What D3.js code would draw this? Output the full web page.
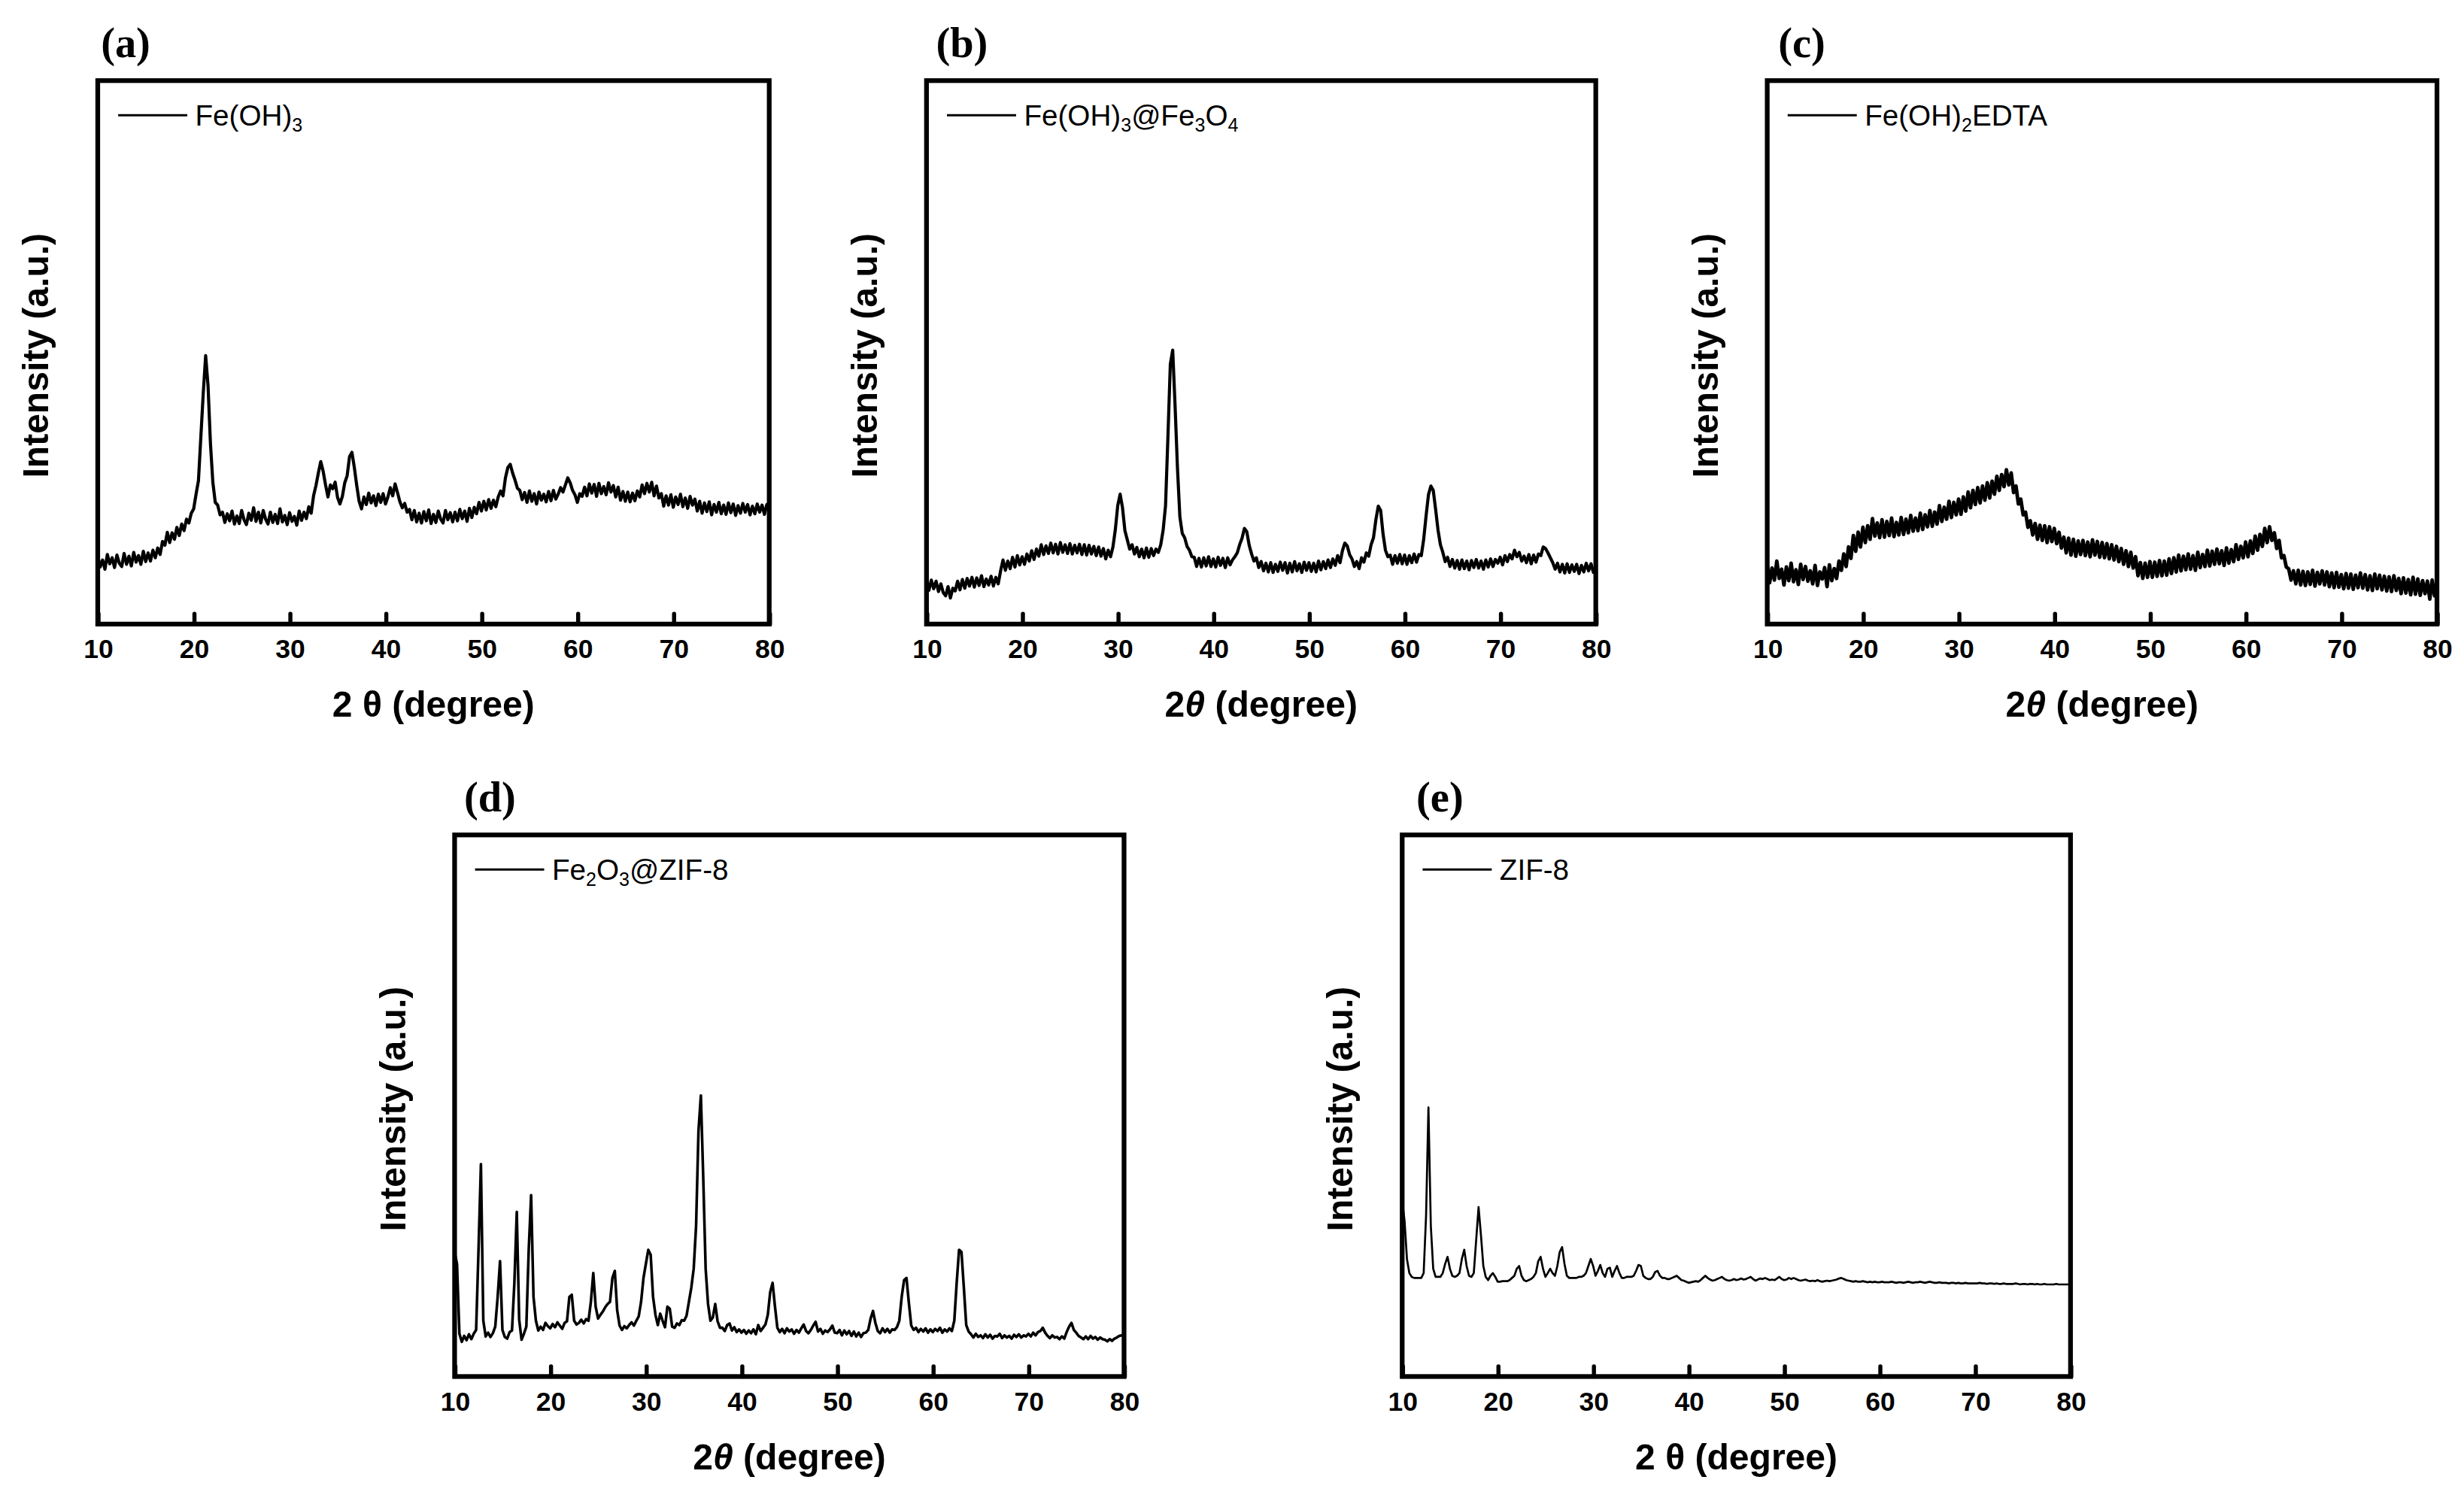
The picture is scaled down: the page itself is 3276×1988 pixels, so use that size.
<!DOCTYPE html>
<html>
<head>
<meta charset="utf-8">
<script src="https://cdn.jsdelivr.net/npm/d3@7"></script>
<style>
  html, body { margin: 0; padding: 0; background: #fff; }
  svg { display: block; }
  .tick text { font-family: "Liberation Sans", Arial, sans-serif; font-weight: bold; }
</style>
</head>
<body>
<div id="chart"></div>
<script>
// XRD patterns, 2θ from 10 to 80 in 0.25 degree steps; intensity in % of the frame height
var twoThetaStart = 10;
var twoThetaStep = 0.25;
var xTickValues = [10, 20, 30, 40, 50, 60, 70, 80];

var feOH3 = [
  12.5,10.5,11.8,10.1, 12.8,11.1,12.2,10.4, 12.7,11.2,10.6,13.0, 11.0,12.5,10.7,13.2,
  11.4,12.6,11.0,13.4, 11.5,13.1,11.6,13.6, 12.2,14.0,12.8,15.2, 14.5,16.9,15.0,16.8,
  15.6,17.8,16.3,18.4, 17.2,19.3,18.6,20.4, 21.2,23.9,26.4,34.5, 42.5,49.4,43.8,33.2,
  26.1,22.4,21.9,20.1, 20.6,18.7,20.3,19.0, 20.8,18.4,19.9,18.5, 20.9,19.2,18.3,20.4,
  19.1,21.4,18.9,20.6, 18.6,20.9,19.3,18.4, 20.6,18.7,20.2,18.5, 21.2,18.8,20.0,18.3,
  20.5,18.9,19.8,18.2, 20.8,19.1,20.6,19.4, 21.6,20.4,23.6,25.5, 27.8,29.9,28.1,25.6,
  23.4,25.6,24.9,26.1, 23.3,22.1,23.5,26.0, 27.3,30.8,31.6,28.8, 25.5,22.6,21.2,23.4,
  22.0,24.1,22.3,23.6, 21.8,23.9,22.4,24.0, 22.1,23.4,25.1,23.6, 25.8,24.2,22.5,21.4,
  22.2,20.6,21.1,19.2, 20.9,18.8,20.4,18.6, 20.7,19.0,21.0,18.5, 20.2,18.7,20.8,19.3,
  18.6,20.9,19.2,20.5, 18.8,20.6,19.0,21.1, 19.4,20.8,18.9,21.3, 19.6,21.5,20.3,22.4,
  20.8,22.6,21.0,22.9, 21.3,22.8,21.6,23.4, 24.5,23.6,26.9,28.8, 29.4,27.8,26.5,25.0,
  24.6,22.9,24.2,22.4, 24.5,22.6,24.0,22.1, 24.3,22.8,23.9,22.5, 24.4,22.7,24.6,23.0,
  23.9,25.1,24.3,25.6, 26.9,26.0,24.6,23.8, 22.4,24.0,23.5,25.2, 23.6,25.8,24.1,25.7,
  23.5,25.9,24.0,25.3, 23.8,26.0,24.3,25.5, 23.4,25.2,22.8,24.4, 22.6,24.3,22.5,24.1,
  22.7,24.5,23.4,25.6, 24.0,25.9,24.3,26.1, 23.6,25.4,23.2,24.0, 21.7,23.6,21.9,23.8,
  21.5,23.4,22.0,23.9, 21.6,23.2,21.3,23.5, 21.9,23.0,20.8,22.6, 20.4,22.3,20.7,22.5,
  20.1,22.0,20.6,22.4, 20.3,21.9,20.2,22.3, 20.5,22.1,20.0,21.8, 20.4,22.2,20.6,22.0,
  20.1,21.7,20.3,22.1, 20.6,21.9,20.2,22.0, 21.3
];

var feOH3Fe3O4 = [
  7.8,6.2,8.1,6.5, 7.9,6.0,7.4,5.8, 5.2,6.9,4.8,6.6, 6.1,7.9,6.3,8.2,
  6.6,8.4,7.0,8.6, 6.8,8.5,7.1,8.9, 6.9,8.3,7.2,8.8, 7.0,8.6,7.4,9.8,
  11.8,9.9,11.6,10.2, 12.3,10.5,12.6,10.9, 12.4,11.0,12.9,11.6, 13.5,11.9,13.8,12.5,
  14.6,12.8,14.4,13.0, 14.9,13.1,14.7,12.9, 15.0,13.2,14.6,13.0, 14.8,12.9,14.5,13.1,
  14.7,12.8,14.6,12.7, 14.5,12.9,14.3,12.6, 14.2,12.5,13.9,12.0, 13.6,12.4,14.2,17.4,
  21.8,23.9,21.4,17.2, 15.5,13.8,14.6,12.9, 14.1,12.4,13.8,12.2, 14.0,12.3,13.9,12.6,
  13.8,13.2,14.6,17.3, 21.8,34.5,47.8,50.4, 40.1,28.6,19.7,16.7, 15.9,14.3,13.6,12.4,
  12.3,10.6,12.1,10.5, 12.2,10.7,12.4,10.6, 12.0,10.5,12.3,10.8, 12.1,10.4,12.2,10.9,
  11.8,12.4,13.1,14.6, 15.8,17.6,17.0,14.5, 12.9,11.6,12.2,10.4, 11.5,9.8,11.2,9.6,
  11.3,9.5,11.0,9.7, 11.4,9.9,11.3,9.4, 11.2,9.6,11.5,9.8, 11.1,9.5,11.4,9.9,
  11.3,9.7,11.2,9.6, 11.6,10.0,11.5,10.2, 11.8,10.4,12.0,10.8, 12.6,11.3,13.5,14.9,
  14.4,12.8,12.0,10.6, 11.5,10.2,12.2,11.4, 13.1,12.5,14.6,15.9, 19.2,21.7,20.9,16.6,
  13.6,12.4,12.7,11.0, 12.6,11.2,12.8,11.1, 12.7,11.0,12.6,11.3, 12.9,11.4,12.8,12.6,
  15.6,19.9,23.8,25.4, 24.6,21.1,17.3,14.6, 13.2,11.5,12.3,10.6, 11.9,10.3,11.7,10.1,
  11.8,10.2,11.6,10.0, 11.7,10.4,11.9,10.3, 11.6,10.1,11.8,10.5, 12.0,10.6,11.9,11.2,
  12.3,10.9,12.6,11.5, 12.8,12.0,13.6,12.4, 13.2,11.6,12.5,11.3, 12.8,11.1,12.7,11.4,
  12.9,12.6,14.2,13.9, 13.1,12.2,11.3,10.1, 11.2,9.6,11.0,9.4, 11.1,9.5,10.9,9.7,
  11.0,9.3,10.8,9.6, 11.2,9.8,11.1,9.5, 10.4
];

var feOH2EDTA = [
  10.9,7.6,10.3,8.1, 11.6,8.4,10.1,7.2, 10.5,8.0,11.2,7.8, 10.0,7.3,11.0,8.2,
  10.6,7.9,9.8,7.4, 10.8,7.1,9.6,8.3, 10.4,6.9,10.9,8.0, 10.2,8.4,11.6,9.9,
  12.9,10.6,14.2,12.1, 16.3,13.4,16.9,14.2, 17.8,15.0,18.1,15.6, 19.4,16.2,18.6,15.9,
  19.2,16.0,18.9,16.3, 19.5,16.1,18.7,16.4, 19.6,16.5,19.3,16.8, 20.0,17.1,19.5,17.2,
  20.4,17.4,20.1,17.9, 20.9,18.0,20.6,18.4, 21.8,18.9,21.5,19.3, 22.6,19.6,22.4,20.1,
  23.0,20.2,23.4,20.8, 24.3,21.4,24.6,22.0, 25.1,22.3,25.4,22.8, 26.0,23.2,26.3,23.9,
  27.2,24.6,27.5,25.3, 28.4,25.6,27.8,24.2, 25.4,22.1,23.0,20.1, 20.6,17.8,19.0,16.4,
  18.5,15.6,18.2,15.4, 18.1,15.0,17.9,15.2, 17.6,14.8,16.9,14.0, 16.0,13.1,15.8,12.7,
  15.6,12.5,15.3,12.8, 15.4,12.6,15.1,12.4, 15.5,12.7,15.2,12.3, 15.0,12.2,14.8,12.0,
  14.6,11.8,14.3,11.5, 13.9,11.0,13.5,10.6, 13.2,10.3,12.4,8.9, 11.3,8.4,11.2,8.6,
  11.5,8.6,11.4,8.8, 11.7,8.9,11.6,9.0, 12.0,9.3,12.2,9.6, 12.7,9.8,12.5,10.0,
  12.9,10.1,12.6,9.9, 13.2,10.4,12.8,10.6, 13.6,10.7,13.4,11.0, 13.8,11.1,13.5,10.8,
  14.0,11.2,13.7,11.5, 14.6,11.9,14.3,12.2, 15.1,12.4,15.3,13.0, 16.2,13.6,16.5,14.3,
  17.6,15.0,17.9,15.4, 16.8,13.9,15.4,12.2, 12.6,10.5,10.2,8.1, 9.8,7.4,9.9,7.2,
  9.7,7.1,9.6,7.3, 9.9,7.0,9.5,7.4, 9.8,7.2,9.6,6.9, 9.4,6.7,9.5,6.8,
  9.1,6.5,9.3,6.6, 9.2,6.4,9.0,6.7, 9.4,6.6,9.1,6.3, 8.9,6.2,9.2,6.5,
  9.0,6.3,8.8,6.1, 8.7,6.0,8.9,6.2, 8.4,5.6,8.5,5.7, 8.2,5.4,8.6,5.5,
  8.3,5.3,8.0,5.6, 7.9,4.6,8.1,5.2, 6.4
];

var fe2O3ZIF8 = [
  23.0,20.8,7.9,6.4, 7.5,6.7,7.8,6.9, 7.9,8.6,23.4,39.2, 10.3,7.4,8.1,7.3,
  8.0,9.2,14.7,21.3, 8.6,7.3,7.0,8.2, 8.5,17.3,30.4,10.5, 6.8,7.9,9.2,23.4,
  33.5,14.7,10.3,8.5, 9.2,8.6,9.9,9.3, 8.9,9.7,9.1,10.0, 9.4,8.8,9.9,10.2,
  14.7,15.1,10.3,9.6, 9.9,10.5,9.8,10.6, 10.3,13.8,19.1,12.9, 10.7,11.4,12.0,12.8,
  13.4,13.8,18.2,19.5, 12.2,9.4,8.6,9.3, 8.9,9.5,10.0,9.4, 10.3,11.1,13.8,18.2,
  20.8,23.4,22.5,14.7, 11.4,9.5,11.6,10.3, 9.1,12.9,12.5,9.2, 9.0,9.8,9.5,10.4,
  10.3,11.2,13.8,16.4, 19.9,27.8,45.3,51.9, 36.6,19.9,13.4,10.3, 10.9,13.4,10.2,9.0,
  9.0,8.4,9.5,9.8, 8.5,9.1,8.2,8.7, 8.1,8.6,7.9,8.5, 8.0,8.7,7.8,9.5,
  8.4,9.0,9.6,11.4, 15.6,17.3,12.9,9.0, 8.2,8.8,8.0,8.9, 8.3,8.7,7.9,8.6,
  8.1,8.9,9.6,8.4, 8.0,8.6,9.4,10.1, 8.3,8.8,7.9,8.5, 8.2,8.7,9.4,8.1,
  8.0,8.6,7.6,8.5, 7.8,8.4,7.5,8.3, 7.4,8.1,7.3,8.0, 8.1,8.6,10.7,12.1,
  9.9,8.4,8.0,8.9, 8.2,8.8,8.1,8.7, 8.6,9.1,10.3,14.7, 17.8,18.2,13.6,9.4,
  8.6,9.0,8.2,8.8, 8.3,8.9,8.1,8.7, 8.2,8.8,8.4,9.0, 8.1,8.7,8.3,8.9,
  8.4,10.3,17.3,23.4, 23.0,16.4,9.5,8.3, 7.8,7.2,7.9,7.3, 7.6,7.1,7.8,7.2,
  7.7,7.0,7.5,7.4, 7.9,7.1,7.6,7.2, 7.5,7.0,7.7,7.3, 7.8,7.2,7.6,7.4,
  7.9,7.4,8.1,7.6, 8.2,8.4,9.0,8.1, 7.5,7.1,7.6,7.2, 7.3,6.9,7.4,7.0,
  8.2,9.2,9.9,8.6, 8.1,7.5,7.2,6.9, 7.4,6.9,7.5,7.0, 7.3,6.8,7.2,6.9,
  6.8,6.5,6.9,6.6, 7.0,7.2,7.5,7.6, 7.7
];

var zif8 = [
  32.6,28.7,21.7,19.1, 18.4,18.2,18.2,18.2, 18.2,19.1,29.6,49.7, 27.8,19.9,18.4,18.4,
  18.4,19.1,20.8,22.1, 19.9,18.6,18.4,18.6, 19.1,21.7,23.4,20.4, 18.6,18.4,19.1,25.2,
  31.3,26.1,20.4,18.4, 17.8,18.6,19.1,18.4, 17.5,17.5,17.6,17.6, 17.6,17.8,18.2,18.6,
  19.9,20.4,18.6,17.8, 17.6,17.8,18.0,18.4, 19.1,21.3,22.1,19.9, 18.4,19.1,19.9,19.1,
  18.6,20.4,23.0,23.9, 20.8,18.6,18.2,18.2, 18.2,18.2,18.4,18.4, 18.6,19.1,20.4,21.7,
  20.4,18.6,19.5,20.6, 19.1,18.4,19.9,20.1, 18.4,19.5,20.4,19.1, 18.2,18.2,18.4,18.4,
  18.4,18.6,19.5,20.6, 20.4,18.6,18.2,18.0, 18.0,18.4,19.3,19.5, 18.6,18.2,18.2,18.0,
  18.0,18.2,18.4,18.6, 18.2,17.8,17.7,17.5, 17.3,17.4,17.5,17.6, 17.5,17.8,18.2,18.6,
  18.2,17.9,17.7,17.8, 18.0,18.2,18.4,18.0, 17.8,17.7,17.8,18.0, 17.8,17.9,18.1,17.9,
  18.0,18.2,18.4,18.0, 17.7,17.9,18.1,18.0, 18.2,18.0,17.8,17.9, 17.8,18.1,18.4,18.0,
  17.8,17.9,18.2,18.0, 18.2,18.0,17.8,17.7, 17.8,17.9,17.7,17.6, 17.7,17.6,17.8,17.6,
  17.5,17.6,17.7,17.6, 17.7,17.8,17.9,18.1, 18.2,18.0,17.8,17.7, 17.6,17.5,17.6,17.5,
  17.5,17.6,17.5,17.4, 17.5,17.4,17.5,17.4, 17.4,17.5,17.4,17.4, 17.4,17.5,17.4,17.3,
  17.4,17.4,17.3,17.4, 17.5,17.4,17.3,17.4, 17.4,17.5,17.4,17.3, 17.4,17.5,17.4,17.3,
  17.3,17.4,17.3,17.3, 17.3,17.2,17.3,17.3, 17.2,17.3,17.2,17.2, 17.3,17.2,17.2,17.2,
  17.2,17.2,17.3,17.2, 17.2,17.1,17.2,17.2, 17.1,17.2,17.1,17.1, 17.2,17.1,17.1,17.1,
  17.1,17.2,17.1,17.0, 17.1,17.1,17.0,17.1, 17.1,17.0,17.1,17.0, 17.0,17.1,17.0,17.0,
  17.0,17.0,17.1,17.0, 17.0,17.0,17.0,17.0, 17.0
];

// legend labels: pieces of [text, isSubscript]
var legendA = [["Fe(OH)", 0], ["3", 1]];
var legendB = [["Fe(OH)", 0], ["3", 1], ["@Fe", 0], ["3", 1], ["O", 0], ["4", 1]];
var legendC = [["Fe(OH)", 0], ["2", 1], ["EDTA", 0]];
var legendD = [["Fe", 0], ["2", 1], ["O", 0], ["3", 1], ["@ZIF-8", 0]];
var legendE = [["ZIF-8", 0]];

var panelLetters = ["(a)", "(b)", "(c)", "(d)", "(e)"];

// layout in a 1568-wide coordinate system, scaled up to the window
var W = 1568, H = 951.5;
var panels = [
  { letter: panelLetters[0], data: feOH3,      legend: legendA, italicTheta: false, left: 62.2,   right: 489.5,  top: 51.3,  bottom: 397.2, labelDx: 2, lw: 2.0 },
  { letter: panelLetters[1], data: feOH3Fe3O4, legend: legendB, italicTheta: true,  left: 589.6,  right: 1015.5, top: 51.3,  bottom: 397.2, labelDx: 6, lw: 2.0 },
  { letter: panelLetters[2], data: feOH2EDTA,  legend: legendC, italicTheta: true,  left: 1124.6, right: 1550.8, top: 51.3,  bottom: 397.2, labelDx: 7, lw: 2.3 },
  { letter: panelLetters[3], data: fe2O3ZIF8,  legend: legendD, italicTheta: true,  left: 289.3,  right: 715.3,  top: 531.4, bottom: 876.1, labelDx: 6, lw: 1.7 },
  { letter: panelLetters[4], data: zif8,       legend: legendE, italicTheta: false, left: 892.3,  right: 1317.6, top: 531.4, bottom: 876.1, labelDx: 9, lw: 1.3 }
];

var sans = '"Liberation Sans", Arial, sans-serif';
var serif = '"Liberation Serif", "Times New Roman", serif';

var svg = d3.select('#chart').append('svg')
    .attr('width', 3276)
    .attr('height', 1988)
    .attr('viewBox', '0 0 ' + W + ' ' + H);

svg.append('rect').attr('width', W).attr('height', H).attr('fill', '#fff');

panels.forEach(function(p, k) {
    var g = svg.append('g');
    var x = d3.scaleLinear().domain([10, 80]).range([p.left, p.right]);
    var y = d3.scaleLinear().domain([0, 100]).range([p.bottom, p.top]);

    // clip the trace to the frame
    var clipId = 'clip' + k;
    g.append('clipPath').attr('id', clipId)
      .append('rect')
        .attr('x', p.left).attr('y', p.top)
        .attr('width', p.right - p.left).attr('height', p.bottom - p.top);

    var line = d3.line()
        .x(function(d, i) { return x(twoThetaStart + i * twoThetaStep); })
        .y(function(d) { return y(d); });

    g.append('path')
        .datum(p.data)
        .attr('clip-path', 'url(#' + clipId + ')')
        .attr('d', line)
        .attr('fill', 'none')
        .attr('stroke', '#000')
        .attr('stroke-width', p.lw)
        .attr('stroke-linejoin', 'round');

    // bottom axis with short inward ticks
    var axis = d3.axisBottom(x)
        .tickValues(xTickValues)
        .tickSize(-6.5)
        .tickPadding(9.5)
        .tickFormat(d3.format('d'));
    var ax = g.append('g')
        .attr('transform', 'translate(0,' + p.bottom + ')')
        .call(axis);
    ax.select('.domain').remove();
    ax.selectAll('.tick line').attr('stroke', '#000').attr('stroke-width', 2.6)
      .attr('stroke-linecap', 'round');
    ax.selectAll('.tick text').attr('font-size', 17).attr('fill', '#000');

    // frame
    g.append('rect')
        .attr('x', p.left).attr('y', p.top)
        .attr('width', p.right - p.left).attr('height', p.bottom - p.top)
        .attr('fill', 'none')
        .attr('stroke', '#000')
        .attr('stroke-width', 3);

    // x title
    var xt = g.append('text')
        .attr('x', (p.left + p.right) / 2)
        .attr('y', p.bottom + 59)
        .attr('text-anchor', 'middle')
        .attr('font-family', sans)
        .attr('font-weight', 'bold')
        .attr('font-size', 23);
    if (p.italicTheta) {
        xt.append('tspan').text('2');
        xt.append('tspan').attr('font-style', 'italic').text('\u03b8');
        xt.append('tspan').text(' (degree)');
    } else {
        xt.text('2 \u03b8 (degree)');
    }

    // y title
    g.append('text')
        .attr('transform', 'translate(' + (p.left - 31.5) + ',' + ((p.top + p.bottom) / 2 + 2) + ') rotate(-90)')
        .attr('text-anchor', 'middle')
        .attr('font-family', sans)
        .attr('font-weight', 'bold')
        .attr('font-size', 23)
        .text('Intensity (a.u.)');

    // panel letter
    g.append('text')
        .attr('x', p.left + p.labelDx)
        .attr('y', p.top - 15)
        .attr('font-family', serif)
        .attr('font-weight', 'bold')
        .attr('font-size', 27)
        .text(p.letter);

    // legend
    var ly = p.top + 22;
    g.append('line')
        .attr('x1', p.left + 13).attr('x2', p.left + 57)
        .attr('y1', ly).attr('y2', ly)
        .attr('stroke', '#000').attr('stroke-width', 1.4);
    var lt = g.append('text')
        .attr('x', p.left + 62)
        .attr('y', ly + 6.5)
        .attr('font-family', sans)
        .attr('font-size', 18.5);
    p.legend.forEach(function(piece) {
        var ts = lt.append('tspan').text(piece[0]);
        if (piece[1]) {
            ts.attr('font-size', 12).attr('dy', 4);
        } else {
            ts.attr('dy', lt.selectAll('tspan').size() > 1 ? -4 : 0);
        }
    });
});
</script>
</body>
</html>
